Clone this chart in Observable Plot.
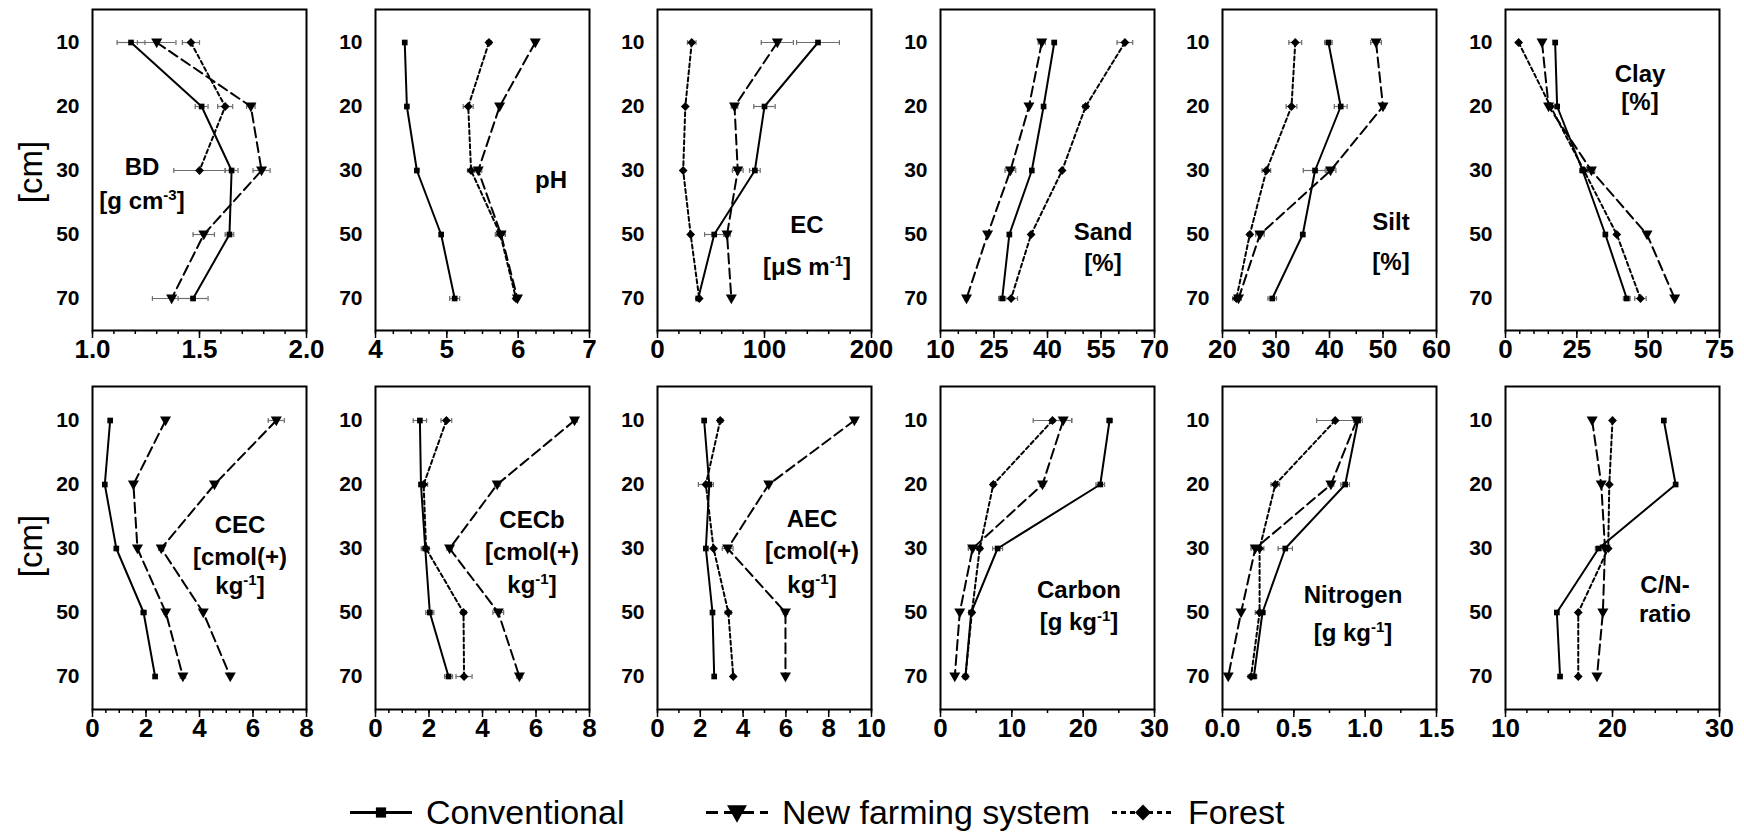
<!DOCTYPE html>
<html><head><meta charset="utf-8">
<script src="https://cdn.jsdelivr.net/npm/d3@7"></script>
<script src="https://cdn.jsdelivr.net/npm/@observablehq/plot@0.6"></script>
<style>
body{margin:0;background:#fff;}
#chart{position:relative;width:1744px;height:835px;overflow:hidden;font-family:"Liberation Sans",Arial,sans-serif;color:#000;}
.panel{position:absolute;}
.panel svg{max-width:none !important;}
.ylab{position:absolute;font-size:33px;transform:translate(-50%,-50%) rotate(-90deg);white-space:nowrap;line-height:1;}
.leg{position:absolute;display:flex;align-items:center;font-size:34px;white-space:nowrap;transform:translateY(-50%);}
.leg svg{margin-right:14px;overflow:visible;}
</style></head><body><div id="chart"></div><script>
// ---------------- DATA ----------------
const depths = [10, 20, 30, 50, 70];
const seriesNames = ["Conventional", "New farming system", "Forest"];

const bdConv = [1.18, 1.51, 1.65, 1.64, 1.47];      const bdConvErr = [0.065, 0.03, 0.03, 0.02, 0.07];
const bdNfs = [1.30, 1.74, 1.79, 1.52, 1.37];       const bdNfsErr = [0.09, 0.02, 0.04, 0.05, 0.09];
const bdFor = [1.46, 1.62, 1.50, null, null];       const bdForErr = [0.04, 0.035, 0.12, 0, 0];

const phConv = [4.41, 4.44, 4.58, 4.92, 5.11];      const phConvErr = [0, 0, 0, 0, 0.07];
const phNfs = [6.24, 5.74, 5.44, 5.76, 5.99];       const phNfsErr = [0, 0, 0.05, 0.06, 0];
const phFor = [5.59, 5.30, 5.34, 5.75, 5.97];       const phForErr = [0.03, 0.07, 0.05, 0.07, 0.03];

const ecConv = [150, 100, 91, 53, 38];              const ecConvErr = [20, 10, 5, 9, 0];
const ecNfs = [112, 72, 75, 65, 69];                const ecNfsErr = [15, 3, 5, 3, 0];
const ecFor = [32, 26, 24, 31, 39];                 const ecForErr = [4, 0, 0, 0, 0];

const sandConv = [41.9, 38.9, 35.6, 29.3, 27.3];    const sandConvErr = [0.6, 0, 0, 0, 1];
const sandNfs = [38.4, 34.8, 29.6, 23.2, 17.3];     const sandNfsErr = [1, 0, 1.5, 0, 0.5];
const sandFor = [61.7, 50.7, 44.1, 35.4, 29.8];     const sandForErr = [2.2, 0.8, 0, 0, 1.8];

const siltConv = [39.8, 42.1, 37.3, 35.0, 29.3];    const siltConvErr = [0.7, 1.2, 2.2, 0.4, 0.8];
const siltNfs = [48.7, 50.0, 40.2, 27.0, 23.0];     const siltNfsErr = [1.0, 0.4, 1.0, 0.8, 0.5];
const siltFor = [33.6, 32.9, 28.2, 25.1, 22.6];     const siltForErr = [1.2, 1.0, 0.8, 0.4, 0.7];

const clayConv = [17.4, 18.1, 27.0, 35.0, 42.5];    const clayConvErr = [0, 0, 0, 0, 1.2];
const clayNfs = [12.8, 15.1, 30.1, 49.6, 59.3];     const clayNfsErr = [0, 0, 1.2, 0, 0];
const clayFor = [4.6, 15.8, 27.5, 39.0, 47.3];      const clayForErr = [0, 0, 1.5, 0, 2];

const cecConv = [0.66, 0.46, 0.89, 1.91, 2.34];     const cecConvErr = [0, 0, 0, 0.1, 0.06];
const cecNfs = [6.87, 4.56, 2.57, 4.14, 5.15];      const cecNfsErr = [0.3, 0.06, 0.1, 0, 0];
const cecFor = [2.73, 1.53, 1.68, 2.74, 3.38];      const cecForErr = [0, 0, 0, 0.06, 0.1];

const cecbConv = [1.66, 1.70, 1.86, 2.03, 2.73];    const cecbConvErr = [0.25, 0, 0.15, 0.15, 0.15];
const cecbNfs = [7.44, 4.55, 2.77, 4.59, 5.38];     const cecbNfsErr = [0.1, 0.1, 0.1, 0.2, 0.1];
const cecbFor = [2.65, 1.80, 1.89, 3.29, 3.31];     const cecbForErr = [0.2, 0.15, 0, 0.1, 0.3];

const aecConv = [2.18, 2.42, 2.26, 2.57, 2.65];     const aecConvErr = [0, 0, 0, 0, 0];
const aecNfs = [9.2, 5.2, 3.28, 5.98, 5.98];        const aecNfsErr = [0.1, 0, 0.25, 0.1, 0];
const aecFor = [2.93, 2.26, 2.62, 3.31, 3.54];      const aecForErr = [0.12, 0.35, 0, 0.15, 0];

const cConv = [23.7, 22.4, 8.0, 4.3, 3.5];          const cConvErr = [0.4, 0.6, 0.7, 0, 0];
const cNfs = [17.2, 14.3, 4.5, 2.7, 2.0];           const cNfsErr = [1.2, 0.3, 0.6, 0, 0];
const cFor = [15.7, 7.4, 5.5, 4.4, 3.5];            const cForErr = [2.7, 0.3, 0.3, 0.3, 0];

const nConv = [0.95, 0.86, 0.44, 0.28, 0.22];       const nConvErr = [0.03, 0.03, 0.05, 0.02, 0.02];
const nNfs = [0.94, 0.76, 0.23, 0.13, 0.04];        const nNfsErr = [0.02, 0.02, 0.03, 0, 0];
const nFor = [0.79, 0.37, 0.26, 0.26, 0.20];        const nForErr = [0.13, 0.03, 0.03, 0.03, 0.02];

const cnConv = [24.8, 25.9, 18.7, 14.8, 15.1];      const cnConvErr = [0, 0, 0.3, 0, 0];
const cnNfs = [18.1, 18.95, 19.3, 19.1, 18.55];     const cnNfsErr = [0, 0, 0, 0, 0];
const cnFor = [20.0, 19.7, 19.6, 16.8, 16.8];       const cnForErr = [0, 0, 0, 0, 0];

// axis ticks
const bdTicks = [1.0, 1.5, 2.0];       const phTicks = [4, 5, 6, 7];
const ecTicks = [0, 100, 200];         const sandTicks = [10, 25, 40, 55, 70];
const siltTicks = [20, 30, 40, 50, 60];const clayTicks = [0, 25, 50, 75];
const cecTicks = [0, 2, 4, 6, 8];      const cecbTicks = [0, 2, 4, 6, 8];
const aecTicks = [0, 2, 4, 6, 8, 10];  const cTicks = [0, 10, 20, 30];
const nTicks = [0, 0.5, 1.0, 1.5];     const cnTicks = [10, 20, 30];

// ---------------- STYLES ----------------
const triDown = {draw(ctx, size) { const r = Math.sqrt(size / Math.PI); ctx.moveTo(-1.15 * r, -0.85 * r); ctx.lineTo(1.15 * r, -0.85 * r); ctx.lineTo(0, 1.2 * r); ctx.closePath(); }};
const diamond = {draw(ctx, size) { const r = Math.sqrt(size / Math.PI); ctx.moveTo(0, -r); ctx.lineTo(r, 0); ctx.lineTo(0, r); ctx.lineTo(-r, 0); ctx.closePath(); }};
const capSym = {draw(ctx, size) { const r = Math.sqrt(size / Math.PI); ctx.moveTo(0, -r); ctx.lineTo(0, r); }};
const styleConv = {dash: null, symbol: "square", r: 3.2, width: 2};
const styleNfs = {dash: "10,5", symbol: triDown, r: 4.8, width: 2};
const styleFor = {dash: "4,3", symbol: diamond, r: 4.4, width: 2};
const errColor = "#6e6e6e";
const fmt1 = d => d.toFixed(1);
const fmt0 = d => String(d);

const panels = [
  {s: [[bdConv, bdConvErr], [bdNfs, bdNfsErr], [bdFor, bdForErr]], ticks: bdTicks, minor: 0.1, fmt: fmt1,
   label: {cx: 50, lines: [[166, ["BD"]], [200, ["[g cm", ["-3"], "]"]]]}},
  {s: [[phConv, phConvErr], [phNfs, phNfsErr], [phFor, phForErr]], ticks: phTicks, minor: 0.25, fmt: fmt0,
   label: {cx: 176, lines: [[179, ["pH"]]]}},
  {s: [[ecConv, ecConvErr], [ecNfs, ecNfsErr], [ecFor, ecForErr]], ticks: ecTicks, minor: 20, fmt: fmt0,
   label: {cx: 150, lines: [[224, ["EC"]], [266, ["[\u03BCS m", ["-1"], "]"]]]}},
  {s: [[sandConv, sandConvErr], [sandNfs, sandNfsErr], [sandFor, sandForErr]], ticks: sandTicks, minor: 5, fmt: fmt0,
   label: {cx: 163, lines: [[231, ["Sand"]], [262, ["[%]"]]]}},
  {s: [[siltConv, siltConvErr], [siltNfs, siltNfsErr], [siltFor, siltForErr]], ticks: siltTicks, minor: 5, fmt: fmt0,
   label: {cx: 169, lines: [[221, ["Silt"]], [261, ["[%]"]]]}},
  {s: [[clayConv, clayConvErr], [clayNfs, clayNfsErr], [clayFor, clayForErr]], ticks: clayTicks, minor: 5, fmt: fmt0,
   label: {cx: 135, lines: [[73, ["Clay"]], [101, ["[%]"]]]}},
  {s: [[cecConv, cecConvErr], [cecNfs, cecNfsErr], [cecFor, cecForErr]], ticks: cecTicks, minor: 0.5, fmt: fmt0, forestStyle: styleNfs,
   label: {cx: 148, lines: [[147, ["CEC"]], [179, ["[cmol(+)"]], [208, ["kg", ["-1"], "]"]]]}},
  {s: [[cecbConv, cecbConvErr], [cecbNfs, cecbNfsErr], [cecbFor, cecbForErr]], ticks: cecbTicks, minor: 0.5, fmt: fmt0,
   label: {cx: 157, lines: [[142, ["CECb"]], [174, ["[cmol(+)"]], [207, ["kg", ["-1"], "]"]]]}},
  {s: [[aecConv, aecConvErr], [aecNfs, aecNfsErr], [aecFor, aecForErr]], ticks: aecTicks, minor: 1, fmt: fmt0,
   label: {cx: 155, lines: [[141, ["AEC"]], [173, ["[cmol(+)"]], [207, ["kg", ["-1"], "]"]]]}},
  {s: [[cConv, cConvErr], [cNfs, cNfsErr], [cFor, cForErr]], ticks: cTicks, minor: 5, fmt: fmt0,
   label: {cx: 139, lines: [[212, ["Carbon"]], [244, ["[g kg", ["-1"], "]"]]]}},
  {s: [[nConv, nConvErr], [nNfs, nNfsErr], [nFor, nForErr]], ticks: nTicks, minor: 0.25, fmt: fmt1,
   label: {cx: 131, lines: [[217, ["Nitrogen"]], [255, ["[g kg", ["-1"], "]"]]]}},
  {s: [[cnConv, cnConvErr], [cnNfs, cnNfsErr], [cnFor, cnForErr]], ticks: cnTicks, minor: 2, fmt: fmt0,
   label: {cx: 160, lines: [[207, ["C/N-"]], [236, ["ratio"]]]}}
];

// ---------------- LAYOUT ----------------
const chart = document.getElementById("chart");
const ML = 92, MR = 34, MT = 10, MB = 50, FW = 214;
const rowTop = [9, 386], rowH = [321, 323];
const colLeft = c => 92 + c * 282.5;

panels.forEach((p, k) => {
  const col = k % 6, row = Math.floor(k / 6);
  const fh = rowH[row];
  const styles = [styleConv, styleNfs, p.forestStyle || styleFor];
  const rows = [];
  p.s.forEach(([vals, errs], si) => vals.forEach((v, i) => {
    if (v != null) rows.push({series: seriesNames[si], si, depth: depths[i], value: v, err: errs[i] || 0});
  }));
  const errRows = rows.filter(d => d.err > 0);
  const [d0, d1] = [p.ticks[0], p.ticks[p.ticks.length - 1]];
  const minorTicks = d3.range(Math.round((d1 - d0) / p.minor) + 1).map(i => d0 + i * p.minor);
  const marks = [
    Plot.ruleY(errRows, {y: "depth", x1: d => d.value - d.err, x2: d => d.value + d.err, stroke: errColor, strokeWidth: 1.2}),
    Plot.dot(errRows, {y: "depth", x: d => d.value - d.err, symbol: capSym, r: 2.4, fill: "none", stroke: errColor, strokeWidth: 1.2}),
    Plot.dot(errRows, {y: "depth", x: d => d.value + d.err, symbol: capSym, r: 2.4, fill: "none", stroke: errColor, strokeWidth: 1.2})
  ];
  [0, 1, 2].forEach(si => {
    const st = styles[si];
    const data = rows.filter(d => d.si === si);
    marks.push(Plot.line(data, {x: "value", y: "depth", stroke: "black", strokeWidth: st.width, strokeDasharray: st.dash}));
  });
  [0, 1, 2].forEach(si => {
    const st = styles[si];
    const data = rows.filter(d => d.si === si);
    marks.push(Plot.dot(data, {x: "value", y: "depth", symbol: st.symbol, r: st.r, fill: "black", stroke: "none"}));
  });
  marks.push(
    Plot.axisX(minorTicks, {tickSize: 4, tickFormat: () => "", label: null, strokeWidth: 1.5}),
    Plot.axisX(p.ticks, {tickSize: 8, tickPadding: 1, tickFormat: p.fmt, label: null, strokeWidth: 1.5, fontSize: 26}),
    Plot.axisY(depths, {tickSize: 0, tickPadding: 13, label: null, fontSize: 21}),
    Plot.frame({stroke: "black", strokeWidth: 2})
  );
  const svg = Plot.plot({
    width: ML + FW + MR, height: MT + fh + MB,
    marginLeft: ML, marginRight: MR, marginTop: MT, marginBottom: MB,
    x: {domain: [d0, d1], nice: false},
    y: {type: "point", domain: depths, padding: 0.5},
    style: {background: "none", overflow: "visible", maxWidth: "none", fontFamily: '"Liberation Sans", Arial, sans-serif', fontWeight: "bold", fontSize: "26px", color: "black"},
    marks
  });
  // panel label
  const g = d3.select(svg).append("g").attr("font-size", 24).attr("font-weight", "bold").attr("fill", "black").attr("text-anchor", "middle");
  p.label.lines.forEach(([y, parts]) => {
    const t = g.append("text").attr("x", ML + p.label.cx).attr("y", MT + y);
    parts.forEach(part => {
      if (Array.isArray(part)) {
        t.append("tspan").attr("font-size", 15).attr("baseline-shift", "9").text(part[0]);
      } else {
        t.append("tspan").text(part);
      }
    });
  });
  const div = document.createElement("div");
  div.className = "panel";
  div.style.left = (colLeft(col) - ML) + "px";
  div.style.top = (rowTop[row] - MT) + "px";
  div.style.width = (ML + FW + MR) + "px";
  div.appendChild(svg);
  chart.appendChild(div);
});

// y-axis titles
[[30, 172], [30, 546]].forEach(([x, y]) => {
  const d = document.createElement("div");
  d.className = "ylab"; d.style.left = x + "px"; d.style.top = y + "px"; d.textContent = "[cm]";
  chart.appendChild(d);
});

// legend
const legendPos = [350, 706, 1112];
const legendStyles = [styleConv, styleNfs, styleFor];
seriesNames.forEach((name, i) => {
  const st = legendStyles[i];
  const item = document.createElement("div");
  item.className = "leg";
  item.style.left = legendPos[i] + "px";
  item.style.top = "812px";
  const s = d3.create("svg").attr("width", 62).attr("height", 30);
  s.append("line").attr("x1", 0).attr("x2", 62).attr("y1", 15).attr("y2", 15)
    .attr("stroke", "black").attr("stroke-width", 3).attr("stroke-dasharray", st.dash ? (i === 1 ? "12,6" : "5,4") : null);
  const sym = d3.symbol().type(typeof st.symbol === "string" ? d3.symbolSquare : st.symbol).size(Math.PI * Math.pow(st.r * 1.8, 2));
  s.append("path").attr("d", sym()).attr("transform", "translate(31,15)").attr("fill", "black");
  item.appendChild(s.node());
  const t = document.createElement("span"); t.textContent = name;
  item.appendChild(t);
  chart.appendChild(item);
});
</script></body></html>
